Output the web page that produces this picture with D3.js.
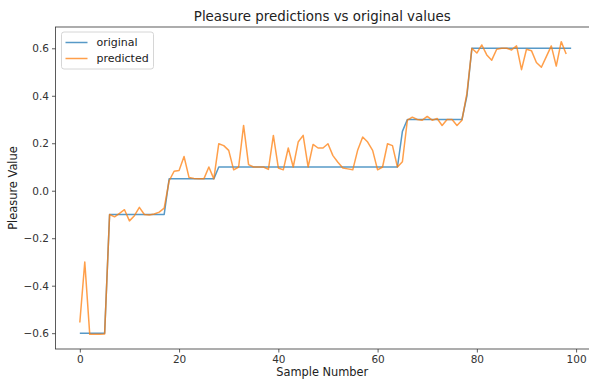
<!DOCTYPE html>
<html>
<head>
<meta charset="utf-8">
<script src="https://cdn.jsdelivr.net/npm/d3@7"></script>
<style>
  body { margin: 0; background: #fff; }
  svg { display: block; font-family: "DejaVu Sans", sans-serif; }
</style>
</head>
<body>
<div id="chart"></div>
<script>
// values
const original = [
  -0.6, -0.6, -0.6, -0.6, -0.6, -0.6,
  -0.1, -0.1, -0.1, -0.1, -0.1, -0.1, -0.1, -0.1, -0.1, -0.1, -0.1, -0.1,
  0.05, 0.05, 0.05, 0.05, 0.05, 0.05, 0.05, 0.05, 0.05, 0.05,
  0.1, 0.1, 0.1, 0.1, 0.1, 0.1, 0.1, 0.1, 0.1, 0.1, 0.1, 0.1, 0.1, 0.1, 0.1, 0.1,
  0.1, 0.1, 0.1, 0.1, 0.1, 0.1, 0.1, 0.1, 0.1, 0.1, 0.1, 0.1, 0.1, 0.1, 0.1, 0.1,
  0.1, 0.1, 0.1, 0.1, 0.1,
  0.25,
  0.3, 0.3, 0.3, 0.3, 0.3, 0.3, 0.3, 0.3, 0.3, 0.3, 0.3, 0.3,
  0.4,
  0.6, 0.6, 0.6, 0.6, 0.6, 0.6, 0.6, 0.6, 0.6, 0.6, 0.6, 0.6, 0.6, 0.6, 0.6, 0.6,
  0.6, 0.6, 0.6, 0.6, 0.6
];
const predicted = [
  -0.555, -0.30, -0.605, -0.605, -0.605, -0.603,
  -0.10, -0.11, -0.095, -0.08, -0.127, -0.105, -0.07, -0.10, -0.102, -0.098, -0.09, -0.073,
  0.042, 0.082, 0.085, 0.144, 0.056, 0.052, 0.05, 0.05, 0.10, 0.05,
  0.198, 0.19, 0.17, 0.088, 0.10, 0.275, 0.11, 0.10, 0.10, 0.10, 0.09, 0.233,
  0.096, 0.088, 0.18, 0.10, 0.205, 0.233, 0.10, 0.195, 0.18, 0.18, 0.198, 0.148,
  0.12, 0.096, 0.092, 0.088, 0.172, 0.226, 0.205, 0.17, 0.088, 0.10, 0.198, 0.19,
  0.10,
  0.122,
  0.297, 0.31, 0.30, 0.297, 0.313, 0.297, 0.304, 0.275, 0.30, 0.30, 0.275, 0.297,
  0.41,
  0.60, 0.58, 0.614, 0.572, 0.55, 0.596, 0.60, 0.60, 0.593, 0.61, 0.51, 0.596,
  0.59, 0.54, 0.52, 0.565, 0.61, 0.525, 0.628, 0.576
];
const xTicks = [0, 20, 40, 60, 80, 100];
const yTicks = [-0.6, -0.4, -0.2, 0.0, 0.2, 0.4, 0.6];
const seriesNames = ['original', 'predicted'];
const seriesColors = ['#1f77b4', '#ff7f0e'];

const width = 589;
const height = 380;
// right spine sits just past the picture edge, as in the cropped reference
const margin = { top: 27, right: -1.5, bottom: 31, left: 55.5 };

const svg = d3.select('#chart').append('svg')
  .attr('width', width)
  .attr('height', height);

// matplotlib style 5% padding
const n = predicted.length;
const xPad = (n - 1) * 0.05;
const allVals = original.concat(predicted);
const yMin = d3.min(allVals);
const yMax = d3.max(allVals);
const yPad = (yMax - yMin) * 0.05;

const x = d3.scaleLinear()
  .domain([-xPad, n - 1 + xPad])
  .range([margin.left, width - margin.right]);
const y = d3.scaleLinear()
  .domain([yMin - yPad, yMax + yPad])
  .range([height - margin.bottom, margin.top]);

const fmtY = (d) => d3.format('.1f')(d).replace('-', '\u2212');

// lines
const line = d3.line()
  .x((d, i) => x(i))
  .y((d) => y(d));

const plot = svg.append('g');
[original, predicted].forEach((s, k) => {
  plot.append('path')
    .datum(s)
    .attr('fill', 'none')
    .attr('stroke', seriesColors[k])
    .attr('stroke-width', 1.5)
    .attr('stroke-opacity', 0.75)
    .attr('stroke-linejoin', 'round')
    .attr('d', line);
});

// axes
const xAxis = svg.append('g')
  .attr('transform', `translate(0,${height - margin.bottom})`)
  .call(d3.axisBottom(x).tickValues(xTicks).tickSize(3.5).tickPadding(3).tickFormat(d3.format('d')));
const yAxis = svg.append('g')
  .attr('transform', `translate(${margin.left},0)`)
  .call(d3.axisLeft(y).tickValues(yTicks).tickSize(3.5).tickPadding(3).tickFormat(fmtY));

[xAxis, yAxis].forEach((ax) => {
  ax.select('.domain').remove();
  ax.selectAll('line').attr('stroke', '#333').attr('stroke-width', 0.8);
  ax.selectAll('text')
    .attr('fill', '#333')
    .style('font-family', '"DejaVu Sans", sans-serif')
    .style('font-size', '10.5px');
});

// frame (spines)
svg.append('rect')
  .attr('x', margin.left)
  .attr('y', margin.top)
  .attr('width', width - margin.right - margin.left)
  .attr('height', height - margin.bottom - margin.top)
  .attr('fill', 'none')
  .attr('stroke', '#333')
  .attr('stroke-width', 0.8);

// title and labels
const cx = (margin.left + width) / 2;
svg.append('text')
  .attr('x', cx)
  .attr('y', 21)
  .attr('text-anchor', 'middle')
  .attr('fill', '#222')
  .style('font-size', '13.4px')
  .text('Pleasure predictions vs original values');

svg.append('text')
  .attr('x', cx)
  .attr('y', 376)
  .attr('text-anchor', 'middle')
  .attr('fill', '#222')
  .style('font-size', '11.4px')
  .text('Sample Number');

svg.append('text')
  .attr('transform', `translate(17,${(margin.top + height - margin.bottom) / 2}) rotate(-90)`)
  .attr('text-anchor', 'middle')
  .attr('fill', '#222')
  .style('font-size', '11.4px')
  .text('Pleasure Value');

// legend
const legend = svg.append('g').attr('transform', 'translate(61.5,32)');
legend.append('rect')
  .attr('width', 92)
  .attr('height', 37)
  .attr('rx', 2.5)
  .attr('fill', '#fff')
  .attr('fill-opacity', 0.8)
  .attr('stroke', '#ccc')
  .attr('stroke-width', 0.8);
seriesNames.forEach((name, k) => {
  const row = legend.append('g').attr('transform', `translate(0,${10.5 + k * 16})`);
  row.append('line')
    .attr('x1', 4).attr('x2', 26)
    .attr('stroke', seriesColors[k])
    .attr('stroke-width', 1.5)
    .attr('stroke-opacity', 0.75);
  row.append('text')
    .attr('x', 35)
    .attr('dy', '0.35em')
    .attr('fill', '#222')
    .style('font-size', '11px')
    .text(name);
});
</script>
</body>
</html>
